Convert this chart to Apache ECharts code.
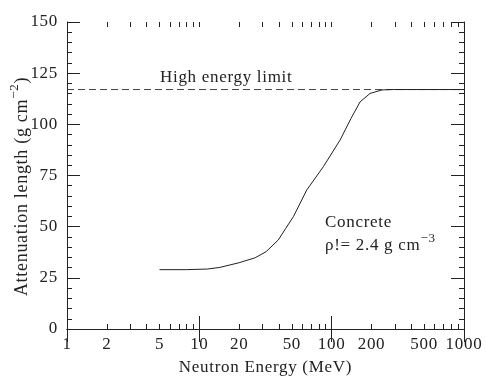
<!DOCTYPE html>
<html>
<head>
<meta charset="utf-8">
<script src="https://cdn.jsdelivr.net/npm/echarts@6/dist/echarts.min.js"></script>
<style>
  html, body { margin: 0; padding: 0; background: #fff; }
  #chart { width: 486px; height: 386px; }
</style>
</head>
<body>
<div id="chart"></div>
<script>
// neutron energy (MeV) and attenuation length (g cm^-2) for concrete
var energy = [5, 8, 11.5, 14.3, 20, 26.4, 32, 39.5, 45, 51.4, 64.8, 86.5, 115.7, 140, 164, 195, 240, 292, 400, 1000];
var atten = [29, 29, 29.3, 30.1, 32.4, 34.8, 37.8, 43.5, 49.2, 54.9, 67.9, 79.3, 92.3, 102.9, 111, 115.1, 116.8, 117, 117, 117];
// high energy limit
var limitX = [1, 1000];
var limitY = 117;
// axis ticks
var xLabels = [1, 2, 5, 10, 20, 50, 100, 200, 500, 1000];
var xMinorTicks = [1, 2, 3, 4, 5, 6, 7, 8, 9, 10, 20, 30, 40, 50, 60, 70, 80, 90,
  100, 200, 300, 400, 500, 600, 700, 800, 900, 1000];

var font = "Liberation Serif";
var ink = "#222";

// the original typesetting is a little letter-spaced
var ctxProto = CanvasRenderingContext2D.prototype;
var origFill = ctxProto.fillText;
var origMeasure = ctxProto.measureText;
ctxProto.fillText = function () {
  this.letterSpacing = "0.7px";
  return origFill.apply(this, arguments);
};
ctxProto.measureText = function () {
  this.letterSpacing = "0.7px";
  return origMeasure.apply(this, arguments);
};

var chart = echarts.init(document.getElementById("chart"));

var gridBox = { left: 67, right: 22, top: 22, bottom: 57, outerBoundsMode: "none", containLabel: false };

function logAxis(pos, grid, major) {
  return {
    type: "log",
    logBase: 10,
    min: 1,
    max: 1000,
    position: pos,
    gridIndex: grid,
    axisLine: { show: major, lineStyle: { color: ink, width: 1 } },
    axisTick: major
      ? { show: true, inside: true, length: 13, lineStyle: { color: ink } }
      : { show: true, inside: true, length: 5, customValues: xMinorTicks, lineStyle: { color: ink } },
    axisLabel: { show: false },
    splitLine: { show: false },
    minorTick: { show: false }
  };
}

var bottomMinor = logAxis("bottom", 1, false);
bottomMinor.axisLabel = {
  show: true,
  customValues: xLabels,
  margin: 7,
  color: ink,
  fontFamily: font,
  fontSize: 17,
  formatter: function (v) { return String(Math.round(v)); }
};
bottomMinor.name = "Neutron Energy (MeV)";
bottomMinor.nameLocation = "middle";
bottomMinor.nameGap = 26;
bottomMinor.nameTextStyle = { color: ink, fontFamily: font, fontSize: 17 };

function valAxis(pos, grid, showLabel) {
  return {
    type: "value",
    min: 0,
    max: 150,
    interval: 25,
    position: pos,
    gridIndex: grid,
    axisLine: { show: true, lineStyle: { color: ink, width: 1 } },
    axisTick: { show: true, inside: true, length: 13, lineStyle: { color: ink } },
    minorTick: { show: true, splitNumber: 5, length: 5, lineStyle: { color: ink } },
    axisLabel: {
      show: showLabel,
      margin: 9,
      color: ink,
      fontFamily: font,
      fontSize: 17
    },
    splitLine: { show: false },
    minorSplitLine: { show: false }
  };
}

var leftAxis = valAxis("left", 0, true);
leftAxis.name = "{a|Attenuation length (g cm}{s|−2}{a|)}";
leftAxis.nameLocation = "middle";
leftAxis.nameRotate = 90;
leftAxis.nameGap = 35;
leftAxis.nameMoveOverlap = false;
leftAxis.nameTextStyle = {
  color: ink,
  padding: [0, 22, 0, 0],
  rich: {
    a: { fontFamily: font, fontSize: 18, color: ink, lineHeight: 24, verticalAlign: "bottom" },
    s: { fontFamily: font, fontSize: 13, color: ink, lineHeight: 24, verticalAlign: "top" }
  }
};

var hiddenY = { type: "value", min: 0, max: 150, gridIndex: 1, show: false };

var option = {
  animation: false,
  backgroundColor: "#fff",
  grid: [
    Object.assign({}, gridBox),
    Object.assign({}, gridBox)
  ],
  xAxis: [
    logAxis("bottom", 0, true),
    logAxis("top", 0, true),
    bottomMinor,
    logAxis("top", 1, false)
  ],
  yAxis: [
    leftAxis,
    valAxis("right", 0, false),
    hiddenY
  ],
  series: [
    {
      name: "limit",
      type: "line",
      xAxisIndex: 0,
      yAxisIndex: 0,
      data: limitX.map(function (x) { return [x, limitY]; }),
      symbol: "none",
      lineStyle: { color: "#444", width: 1, type: [7, 4] },
      silent: true
    },
    {
      name: "concrete",
      type: "line",
      xAxisIndex: 0,
      yAxisIndex: 0,
      data: energy.map(function (e, i) { return [e, atten[i]]; }),
      symbol: "none",
      smooth: false,
      lineStyle: { color: ink, width: 1 },
      silent: true
    }
  ],
  graphic: [
    {
      type: "text",
      left: 160,
      top: 69,
      style: { text: "High energy limit", fill: ink, font: "17px " + font }
    },
    {
      type: "text",
      left: 325,
      top: 214,
      style: {
        text: "{a|Concrete}\n{a|ρ!= 2.4 g cm}{s|−3}",
        fill: ink,
        rich: {
          a: { fontFamily: font, fontSize: 17, fill: ink, lineHeight: 23, verticalAlign: "bottom" },
          s: { fontFamily: font, fontSize: 13, fill: ink, lineHeight: 23, verticalAlign: "top" }
        }
      }
    }
  ]
};

chart.setOption(option);
</script>
</body>
</html>
